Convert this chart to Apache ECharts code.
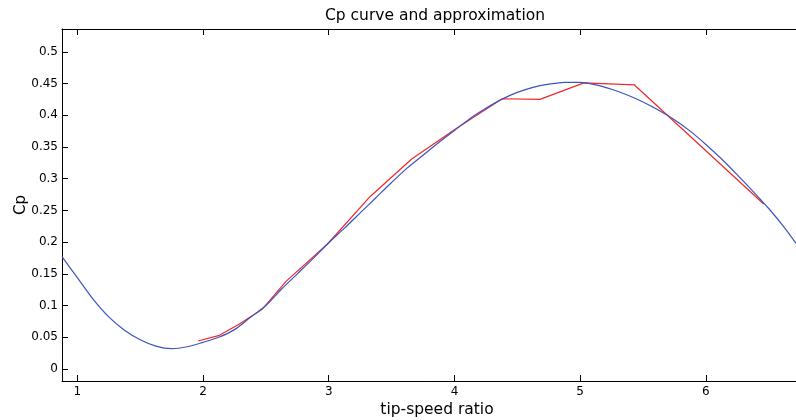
<!DOCTYPE html>
<html>
<head>
<meta charset="utf-8">
<script src="https://cdn.jsdelivr.net/npm/echarts@6/dist/echarts.min.js"></script>
<style>html,body{margin:0;padding:0;background:#fff}#c{width:796px;height:420px}</style>
</head>
<body>
<div id="c"></div>
<script>
// Blue: Cp curve (tip-speed ratio, Cp)
const cpCurveX = [0.878, 1.0, 1.125, 1.25, 1.375, 1.5, 1.625, 1.75, 1.875, 2.0, 2.125, 2.25, 2.375, 2.5, 2.625, 2.75, 2.875, 3.0, 3.125, 3.25, 3.375, 3.5, 3.625, 3.75, 3.875, 4.0, 4.125, 4.25, 4.375, 4.5, 4.625, 4.75, 4.875, 5.0, 5.125, 5.25, 5.375, 5.5, 5.625, 5.75, 5.875, 6.0, 6.125, 6.25, 6.375, 6.5, 6.625, 6.717];
const cpCurveY = [0.177, 0.144, 0.110, 0.082, 0.061, 0.046, 0.036, 0.032, 0.035, 0.042, 0.050, 0.062, 0.081, 0.100, 0.126, 0.150, 0.174, 0.199, 0.222, 0.246, 0.270, 0.294, 0.317, 0.337, 0.357, 0.376, 0.395, 0.411, 0.425, 0.436, 0.444, 0.449, 0.452, 0.452, 0.448, 0.441, 0.432, 0.421, 0.408, 0.393, 0.375, 0.354, 0.331, 0.306, 0.280, 0.253, 0.223, 0.198];
// Red: approximation
const approxX = [1.96, 2.13, 2.29, 2.47, 2.66, 2.99, 3.33, 3.66, 4.02, 4.38, 4.68, 5.03, 5.43, 6.46];
const approxY = [0.044, 0.053, 0.071, 0.094, 0.138, 0.197, 0.272, 0.331, 0.380, 0.426, 0.425, 0.451, 0.448, 0.260];
// Axis ticks
const xTicks = [1, 2, 3, 4, 5, 6];
const yTicks = [0, 0.05, 0.1, 0.15, 0.2, 0.25, 0.3, 0.35, 0.4, 0.45, 0.5];
const xRange = [0.878, 6.717];
const yRange = [-0.019, 0.536];

const FONT = 'DejaVu Sans';
const chart = echarts.init(document.getElementById('c'), null, {renderer: 'canvas'});
const zip = (a, b) => a.map((v, i) => [v, b[i]]);
const axisLine = {show: true, onZero: false, lineStyle: {color: '#000', width: 1}};

chart.setOption({
  animation: false,
  backgroundColor: '#fff',
  title: {
    text: 'Cp curve and approximation',
    left: 430, top: 3, textAlign: 'center',
    textStyle: {fontFamily: FONT, fontSize: 15.5, fontWeight: 'normal', color: '#000'}
  },
  grid: {left: 62, top: 29, right: 0, bottom: 39, containLabel: false, outerBoundsMode: 'none'},
  xAxis: [{
    type: 'value', min: xRange[0], max: xRange[1], position: 'bottom',
    name: 'tip-speed ratio', nameLocation: 'middle', nameGap: 21, nameMoveOverlap: false,
    nameTextStyle: {fontFamily: FONT, fontSize: 15.5, color: '#000', padding: [0, 0, 0, 16]},
    axisLine: axisLine,
    axisTick: {show: true, inside: true, length: 6, customValues: xTicks, lineStyle: {color: '#000'}},
    axisLabel: {show: true, customValues: xTicks, margin: 5, fontFamily: FONT, fontSize: 12, color: '#000', formatter: v => String(v)},
    splitLine: {show: false}
  }, {
    type: 'value', min: xRange[0], max: xRange[1], position: 'top',
    axisLine: axisLine,
    axisTick: {show: true, inside: true, length: 6, customValues: xTicks, lineStyle: {color: '#000'}},
    axisLabel: {show: false},
    splitLine: {show: false}
  }],
  yAxis: [{
    type: 'value', min: yRange[0], max: yRange[1], position: 'left',
    name: 'Cp', nameLocation: 'middle', nameGap: 33, nameRotate: 90, nameMoveOverlap: false,
    nameTextStyle: {fontFamily: FONT, fontSize: 15, color: '#000'},
    axisLine: axisLine,
    axisTick: {show: true, inside: true, length: 6, customValues: yTicks, lineStyle: {color: '#000'}},
    axisLabel: {show: true, customValues: yTicks, margin: 4, fontFamily: FONT, fontSize: 12, color: '#000', formatter: v => String(v)},
    splitLine: {show: false}
  }],
  series: [{
    type: 'line', name: 'Cp', data: zip(cpCurveX, cpCurveY), smooth: 0.3,
    showSymbol: false, lineStyle: {color: '#3c55bf', width: 1.2}, z: 3
  }, {
    type: 'line', name: 'approx', data: zip(approxX, approxY), smooth: false,
    showSymbol: false, lineStyle: {color: '#f02828', width: 1.2}, z: 2
  }]
});
</script>
</body>
</html>
